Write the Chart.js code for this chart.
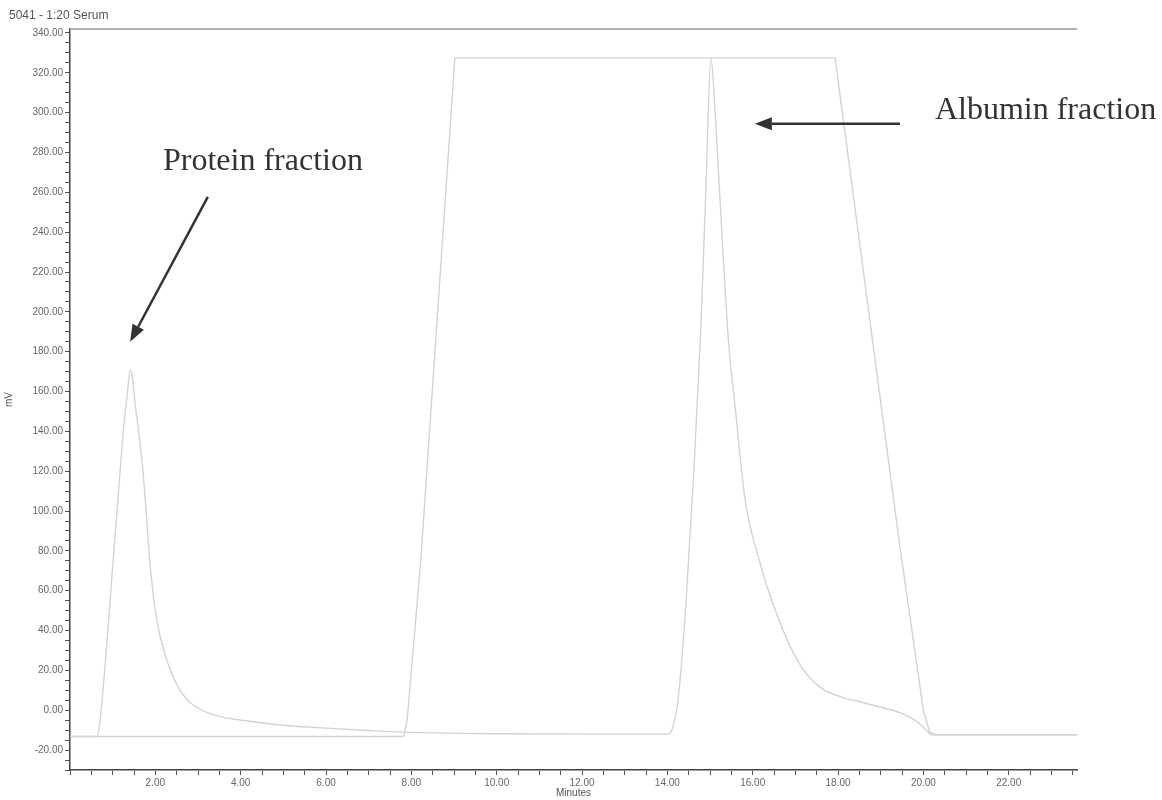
<!DOCTYPE html>
<html>
<head>
<meta charset="utf-8">
<title>5041 - 1:20 Serum</title>
<script src="https://cdn.jsdelivr.net/npm/chart.js@4.4.1/dist/chart.umd.min.js"></script>
<style>
  html, body { margin:0; padding:0; background:#fff; }
  #wrap { width:1162px; height:800px; }
</style>
</head>
<body>
<div id="wrap"><canvas id="chromatogram" width="1162" height="800"></canvas></div>
<script>
const runName = '5041 - 1:20 Serum';

// trace with the protein peak and the albumin peak (minutes / mV)
const peakTime = [0, 0.63, 0.70, 0.77, 0.88, 1.01, 1.16, 1.27, 1.34, 1.41, 1.47, 1.52, 1.62, 1.71, 1.79, 1.87, 2.02, 2.27, 2.50, 2.74, 3.05, 3.52, 4.2, 5.0, 6.0, 7.0, 7.8,
  10.0, 12.5, 14.01, 14.12, 14.25, 14.44, 14.62, 14.78, 14.90, 15.02, 15.12, 15.25, 15.43, 15.59, 15.82, 16.17, 16.50, 16.88, 17.20, 17.58, 18.10, 18.58, 19.00, 19.45, 19.80, 20.05, 20.20, 21.5, 23.6];
const peakMv = [-13.2, -13.2, -6, 9, 38, 75, 116, 145, 158, 171, 166, 155, 138, 120, 98, 75, 47, 25, 13, 5.4, 0.5, -3.2, -5.5, -7.5, -9, -10.2, -11,
  -11.8, -12, -12, -9, 5, 55, 120, 190, 260, 327.5, 300, 250, 186, 152, 106, 74, 52, 32, 20, 11.5, 6.5, 3.9, 1.5, -1.2, -5, -9.5, -12.3, -12.3, -12.3];

// second trace, saturated between the two peaks
const satTime = [0, 7.82, 7.90, 8.22, 9.02, 17.93, 19.45, 20.0, 20.15, 20.3, 23.6];
const satMv = [-13.2, -13.2, -5, 75, 327.5, 327.5, 82, 0, -11, -12.3, -12.3];

// axis ranges and steps
const timeRange = [0, 23.6];
const mvRange = [-30, 342];
const timeMinor = 0.5, timeMajor = 2;
const mvMinor = 5, mvMajor = 20;

// labelled arrows: text anchor, arrow tail, arrow tip (minutes, mV)
const notes = [
  { label: 'Protein fraction', at: [2.18, 271], from: [3.23, 257.7], to: [1.41, 185] },
  { label: 'Albumin fraction', at: [20.27, 297], from: [19.45, 294.4], to: [16.05, 294.4] }
];

const sans = '"Liberation Sans", Arial, sans-serif';
const traceColor = '#d3d3d3';

function pairs(xs, ys) { return xs.map((x, i) => ({ x, y: ys[i] })); }

function arrow(ctx, x1, y1, x2, y2) {
  const a = Math.atan2(y2 - y1, x2 - x1), head = 17, half = 6.5;
  const bx = x2 - head * Math.cos(a), by = y2 - head * Math.sin(a);
  ctx.beginPath(); ctx.moveTo(x1, y1); ctx.lineTo(bx, by); ctx.stroke();
  ctx.beginPath();
  ctx.moveTo(x2, y2);
  ctx.lineTo(bx + half * Math.sin(a), by - half * Math.cos(a));
  ctx.lineTo(bx - half * Math.sin(a), by + half * Math.cos(a));
  ctx.closePath(); ctx.fill();
}

const notesPlugin = {
  id: 'notes',
  afterDatasetsDraw(chart) {
    const { ctx, chartArea, scales: { x, y } } = chart;
    ctx.save();
    ctx.strokeStyle = '#b0b0b0'; ctx.lineWidth = 2;
    ctx.beginPath(); ctx.moveTo(chartArea.left, chartArea.top); ctx.lineTo(chartArea.right, chartArea.top); ctx.stroke();

    ctx.fillStyle = '#555'; ctx.font = '12px ' + sans;
    ctx.textBaseline = 'middle'; ctx.textAlign = 'left';
    ctx.fillText(runName, 9, 16);

    ctx.textBaseline = 'alphabetic';
    ctx.font = '32px "Liberation Serif", "Times New Roman", serif';
    ctx.fillStyle = '#333'; ctx.strokeStyle = '#333'; ctx.lineWidth = 2.5;
    notes.forEach(n => {
      ctx.fillText(n.label, x.getPixelForValue(n.at[0]), y.getPixelForValue(n.at[1]));
      arrow(ctx, x.getPixelForValue(n.from[0]), y.getPixelForValue(n.from[1]),
                 x.getPixelForValue(n.to[0]), y.getPixelForValue(n.to[1]));
    });
    ctx.restore();
  }
};

new Chart(document.getElementById('chromatogram'), {
  type: 'line',
  data: {
    datasets: [
      { data: pairs(satTime, satMv), borderColor: traceColor, borderWidth: 1.4, pointRadius: 0, tension: 0 },
      { data: pairs(peakTime, peakMv), borderColor: traceColor, borderWidth: 1.4, pointRadius: 0, cubicInterpolationMode: 'monotone' }
    ]
  },
  options: {
    responsive: false, animation: false,
    layout: { padding: { top: 29, right: 85, left: 0, bottom: 0 } },
    plugins: { legend: { display: false }, tooltip: { enabled: false } },
    scales: {
      x: {
        type: 'linear', min: timeRange[0], max: timeRange[1],
        afterFit: s => { s.height = 30; },
        ticks: {
          stepSize: timeMinor, includeBounds: false, autoSkip: false, maxRotation: 0, padding: 2,
          color: '#666', font: { size: 10, family: sans },
          callback: v => (v > 0 && v % timeMajor === 0) ? v.toFixed(2) : ''
        },
        grid: { drawOnChartArea: false, tickLength: 5, tickColor: '#555' },
        border: { color: '#444', width: 1.5 },
        title: { display: true, text: 'Minutes', color: '#555', font: { size: 10, family: sans }, padding: { top: 0, bottom: 1 } }
      },
      y: {
        min: mvRange[0], max: mvRange[1],
        afterFit: s => { s.width = 70; },
        ticks: {
          stepSize: mvMinor, includeBounds: false, autoSkip: false, padding: 2,
          color: '#666', font: { size: 10, family: sans },
          callback: v => (v % mvMajor === 0) ? v.toFixed(2) : ''
        },
        grid: { drawOnChartArea: false, tickLength: 5, tickColor: '#555' },
        border: { color: '#444', width: 1.5 },
        title: { display: true, text: 'mV', color: '#555', font: { size: 10, family: sans }, padding: { top: 3, bottom: 0 } }
      }
    }
  },
  plugins: [notesPlugin]
});
</script>
</body>
</html>
